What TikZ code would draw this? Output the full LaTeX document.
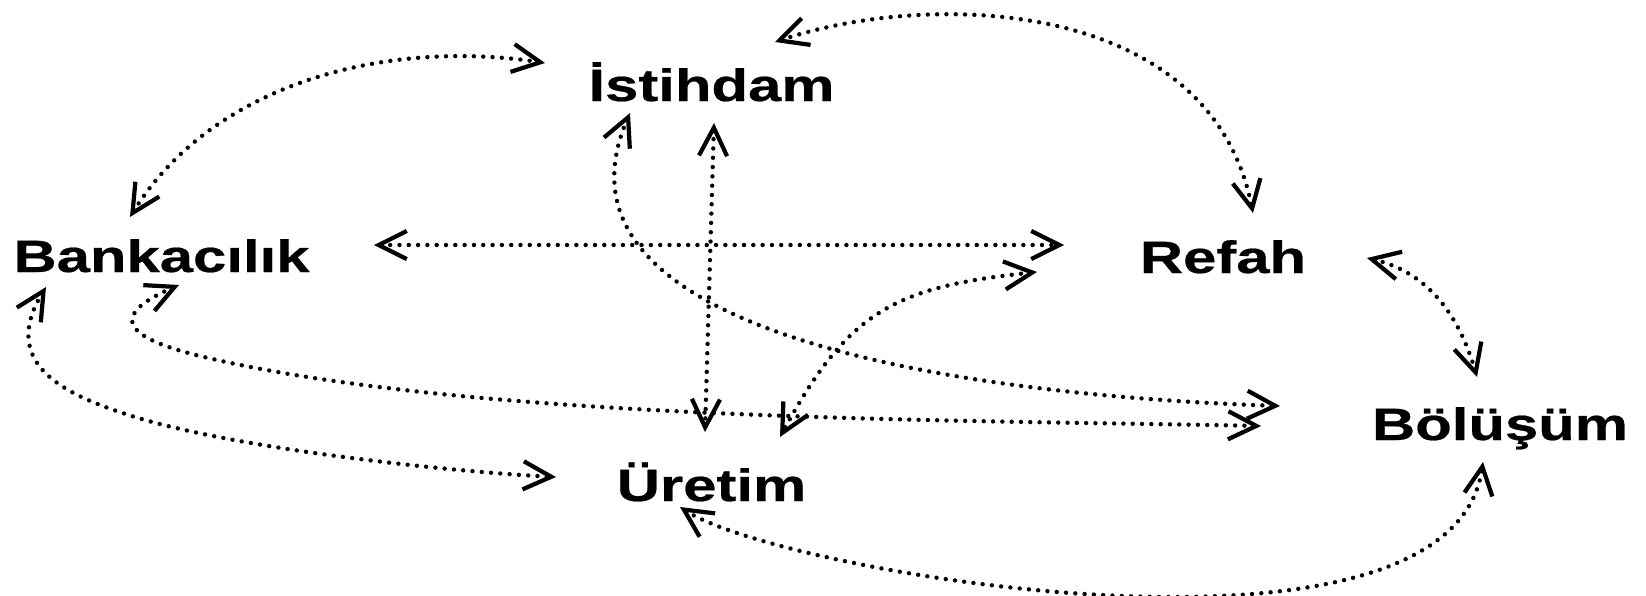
\documentclass[tikz,border=0pt]{standalone}
\usepackage{fontspec}
\newfontfamily\lblfont{Liberation Sans}[FakeStretch=1.32,FakeBold=0.5]
\usetikzlibrary{arrows.meta}

\begin{document}
\begin{tikzpicture}[x=0.02cm, y=-0.02cm,
  lbl/.style={inner sep=0pt, anchor=base, font=\lblfont\bfseries\fontsize{25.8}{30}\selectfont},
  link/.style={line width=2.5pt, line cap=round, dash pattern=on 0pt off 5.3pt, <->,
    >={Straight Barb[length=16pt,width=16pt,line width=2.4pt]}}]
\useasboundingbox (0,0) rectangle (1646,595);
\node[lbl] (ist) at (711.5,101) {İstihdam};
\node[lbl] (bank) at (161.5,272) {Bankacılık};
\node[lbl] (refah) at (1223,273) {Refah};
\node[lbl] (bol) at (1500,440) {Bölüşüm};
\node[lbl] (uret) at (711.5,501) {Üretim};
\draw[link] ([shift={(-31.5,-55)}]bank.base) .. controls +(84,-135) and +(-157,-24) .. ([shift={(-166.5,-38)}]ist.base);
\draw[link] ([shift={(63.5,-59)}]ist.base) .. controls +(155,-52) and +(-43,-216) .. ([shift={(30,-60)}]refah.base);
\draw[link] ([shift={(212.5,-27)}]bank.base) -- ([shift={(-159,-28)}]refah.base);
\draw[link] ([shift={(2.5,22)}]ist.base) -- ([shift={(-6.5,-69)}]uret.base);
\draw[link] ([shift={(-81.5,12)}]ist.base) .. controls +(-116,267) and +(-108,-4) .. ([shift={(-220,-34)}]bol.base);
\draw[link] ([shift={(-186,-1)}]refah.base) .. controls +(-144,15) and +(68,-125) .. ([shift={(68.5,-64)}]uret.base);
\draw[link] ([shift={(17.5,13)}]bank.base) .. controls +(-88,38) and +(-70,-15.5) .. ([shift={(55.5,88)}]bank.base)
  .. controls +(277,62) and +(-283,-6) .. ([shift={(-239,-14)}]bol.base);
\draw[link] ([shift={(-115.5,15)}]bank.base) .. controls +(-48.5,79) and +(-66,-20.5) .. ([shift={(-26.5,145)}]bank.base)
  .. controls +(103.5,32) and +(-107.5,-5.4) .. ([shift={(-155.5,-24)}]uret.base);
\draw[link] ([shift={(144,-15)}]refah.base) .. controls +(64.5,15) and +(-16.5,-56.5) .. ([shift={(-23,-63)}]bol.base);
\draw[link] ([shift={(-31.5,6)}]uret.base) .. controls +(100,66) and +(-32,226) .. ([shift={(-17,22)}]bol.base);
\end{tikzpicture}
\end{document}
